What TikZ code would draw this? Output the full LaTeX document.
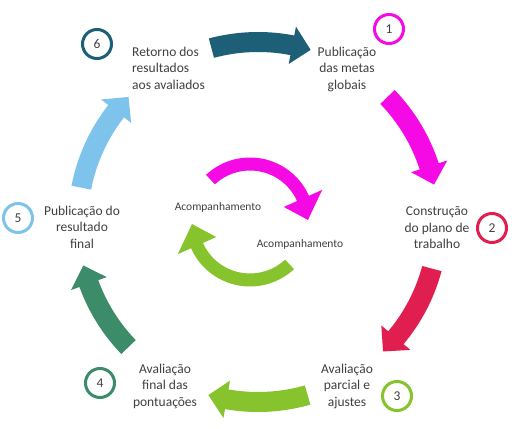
\documentclass[tikz,border=0pt]{standalone}
\usepackage{fontspec}
\setmainfont{Carlito}
\definecolor{teal6}{RGB}{30,95,120}
\definecolor{mag1}{RGB}{245,10,230}
\definecolor{red2}{RGB}{225,30,80}
\definecolor{grn3}{RGB}{135,195,45}
\definecolor{grn4}{RGB}{60,140,105}
\definecolor{blu5}{RGB}{125,195,235}
\definecolor{txt}{RGB}{64,64,64}
% #1 colour, #2 centre, #3 radius, #4 half shaft, #5 half head, #6 tail angle, #7 tip angle, #8 head angle
\newcommand\carrow[8]{%
  \begin{scope}[shift={#2}]
  \fill[#1] ({#6}:{#3+#4}) arc[start angle={#6}, end angle={#7+#8}, radius={#3+#4}]
    -- ({#7+#8}:{#3+#5}) -- ({#7}:{#3}) -- ({#7+#8}:{#3-#5})
    -- ({#7+#8}:{#3-#4}) arc[start angle={#7+#8}, end angle={#6}, radius={#3-#4}] -- cycle;
  \end{scope}}
\tikzset{
  steptext/.style={text=txt, align=center, inner sep=0pt, font=\fontsize{13.5}{16.5}\selectfont},
  innertext/.style={text=txt, inner sep=0pt, font=\fontsize{11.5}{14}\selectfont},
  numcirc/.style={circle, draw=#1, line width=3pt, minimum size=29pt, inner sep=0pt, text=txt, font=\fontsize{13.5}{16}\selectfont}
}
\begin{document}
\begin{tikzpicture}[x=1pt,y=1pt]
\fill[white] (0,0) rectangle (515,429);
\useasboundingbox (0,0) rectangle (515,429);
% outer cycle arrows
\carrow{teal6}{(258,207)}{180}{10}{19}{105}{73}{6}
\carrow{mag1}{(258,207)}{180}{10}{19}{44}{12}{6}
\carrow{red2}{(258,207)}{180}{10}{19}{-15}{-46}{6}
\carrow{grn3}{(258,207)}{180}{10}{19}{-74}{-106}{6}
\carrow{grn4}{(258,207)}{180}{10}{19}{-136}{-166}{6}
\carrow{blu5}{(258,207)}{180}{10}{19}{169}{136}{6}
% inner arrows
\carrow{mag1}{(250,207)}{58}{6.5}{21}{133}{2}{22}
\carrow{grn3}{(250,207)}{58}{6.5}{21}{-47}{-178}{22}
% numbered circles
\node[numcirc=teal6] (c6) at (97,385) {6};
\node[numcirc=mag1] (c1) at (389,400) {1};
\node[numcirc=red2] (c2) at (492,201) {2};
\node[numcirc=grn3] (c3) at (397,33) {3};
\node[numcirc=grn4] (c4) at (100,46) {4};
\node[numcirc=blu5] (c5) at (18,211) {5};
% labels
\node[steptext, align=left, anchor=west] (t6) at (132,361) {Retorno dos\\resultados\\aos avaliados};
\node[steptext] (t1) at (347,360) {Publicação\\das metas\\globais};
\node[steptext] (t2) at (437,201) {Construção\\do plano de\\trabalho};
\node[steptext] (t3) at (347,43) {Avaliação\\parcial e\\ajustes};
\node[steptext] (t4) at (165,43) {Avaliação\\final das\\pontuações};
\node[steptext] (t5) at (82,202) {Publicação do\\resultado\\final};
\node[innertext] (a1) at (218,222) {Acompanhamento};
\node[innertext] (a2) at (300,185) {Acompanhamento};
\end{tikzpicture}
\end{document}
